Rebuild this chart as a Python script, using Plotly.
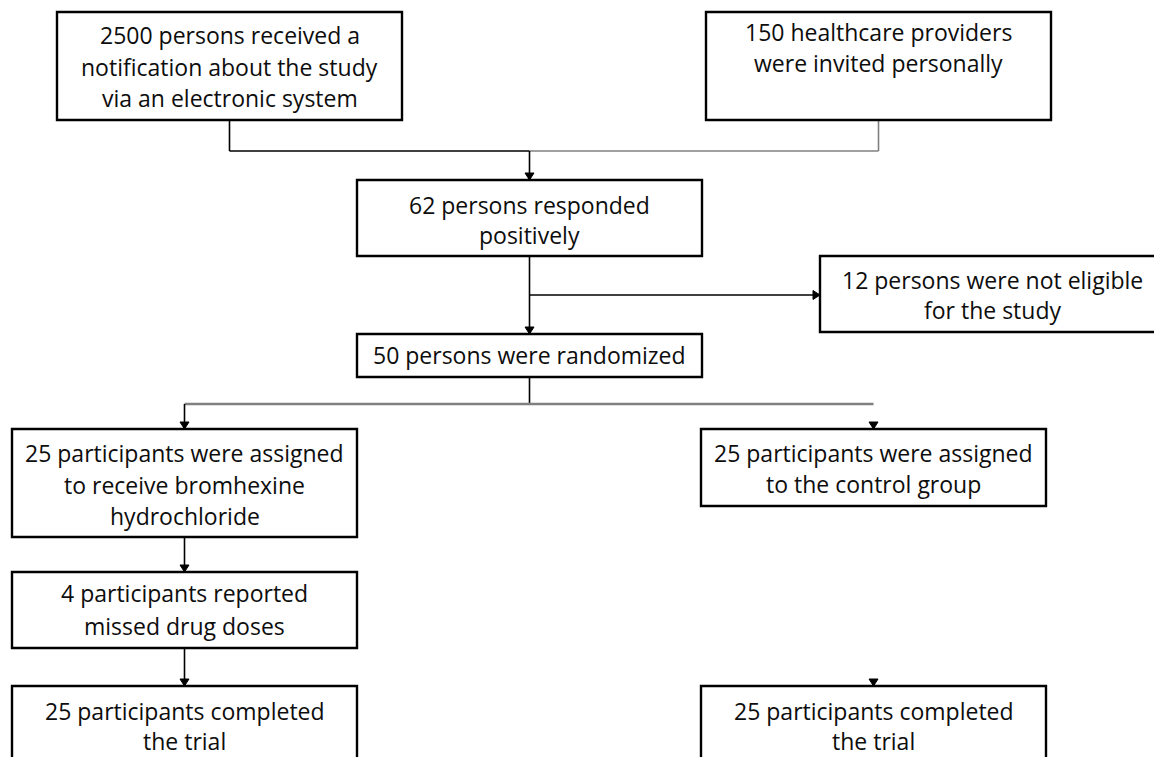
import plotly.graph_objects as go

# ---- content (flowchart texts) ----
box_ids = ["notify", "invite", "responded", "ineligible", "randomized",
           "bromhexine", "control", "missed", "done_left", "done_right"]
box_texts = [
    ["2500 persons received a", "notification about the study", "via an electronic system"],
    ["150 healthcare providers", "were invited personally"],
    ["62 persons responded", "positively"],
    ["12 persons were not eligible", "for the study"],
    ["50 persons were randomized"],
    ["25 participants were assigned", "to receive bromhexine", "hydrochloride"],
    ["25 participants were assigned", "to the control group"],
    ["4 participants reported", "missed drug doses"],
    ["25 participants completed", "the trial"],
    ["25 participants completed", "the trial"],
]

# ---- layout geometry (pixel canvas) ----
W, H = 1154, 757
geom = {  # x0, x1, y0, y1, first text line y, line step
    "notify":     (57, 402, 12, 120, 35, 31.5),
    "invite":     (706, 1051, 12, 120, 32, 31),
    "responded":  (357, 702, 180, 256, 205, 30),
    "ineligible": (820, 1165, 256, 332, 280, 30),
    "randomized": (357, 702, 334, 377, 355, 30),
    "bromhexine": (12, 357, 429, 537, 453, 31.5),
    "control":    (701, 1046, 429, 506, 453, 31),
    "missed":     (12, 357, 572, 648, 593, 33),
    "done_left":  (12, 357, 686, 800, 711, 30),
    "done_right": (701, 1046, 686, 800, 711, 30),
}

BLACK = "#000000"
GRAY = "#808080"
FONT = "'Open Sans', 'Noto Sans', sans-serif"

shapes = []
annotations = []

for bid, lines in zip(box_ids, box_texts):
    x0, x1, y0, y1, ty, step = geom[bid]
    shapes.append(dict(type="rect", xref="x", yref="y", x0=x0, x1=x1, y0=y0, y1=y1,
                       line=dict(color=BLACK, width=2.4), fillcolor="white", layer="above"))
    cx = (x0 + x1) / 2
    for i, t in enumerate(lines):
        annotations.append(dict(x=cx, y=ty + i * step, xref="x", yref="y", text=t,
                                showarrow=False, xanchor="center", yanchor="middle",
                                font=dict(family=FONT, size=23, color="#0d0d0d")))


def seg(x0, y0, x1, y1, color=BLACK, width=1.6):
    shapes.append(dict(type="line", xref="x", yref="y", x0=x0, y0=y0, x1=x1, y1=y1,
                       line=dict(color=color, width=width), layer="below"))


def head(x, y, direction="down", size=7, half=4.5):
    if direction == "down":
        path = f"M {x-half},{y-size} L {x+half},{y-size} L {x},{y} Z"
    else:  # right
        path = f"M {x-size},{y-half} L {x-size},{y+half} L {x},{y} Z"
    shapes.append(dict(type="path", xref="x", yref="y", path=path,
                       fillcolor=BLACK, line=dict(color=BLACK, width=1), layer="above"))


def c(bid):
    x0, x1, y0, y1, *_ = geom[bid]
    return (x0 + x1) / 2, y0, y1


# top merge
nx, _, nb = c("notify")
ix, _, ib = c("invite")
rx, rt, rb = c("responded")
seg(nx, nb, nx, 151)
seg(nx, 151, rx, 151)
seg(rx, 151, ix, 151, GRAY)
seg(ix, ib, ix, 151, GRAY)
seg(rx, 151, rx, rt)
head(rx, rt)

# responded -> randomized, branch to ineligible
_, rnt, rnb = c("randomized")
seg(rx, rb, rx, rnt)
head(rx, rnt)
el_x0 = geom["ineligible"][0]
seg(rx, 295, el_x0, 295)
head(el_x0, 295, "right")

# randomization split
bx, bt, bb = c("bromhexine")
cx_, ct, cb = c("control")
seg(rx, rnb, rx, 404)
seg(bx, 404, cx_, 404, GRAY, 2.4)
seg(bx, 404, bx, bt)
head(bx, bt)
head(cx_, ct)

# left column
mx, mt, mb = c("missed")
dx, dt, db = c("done_left")
seg(bx, bb, bx, mt)
head(bx, mt)
seg(mx, mb, mx, dt)
head(mx, dt)
# right column (arrowhead only)
ex, et, eb = c("done_right")
head(ex, et)

fig = go.Figure()
fig.update_layout(
    width=W, height=H,
    margin=dict(l=0, r=0, t=0, b=0),
    paper_bgcolor="white", plot_bgcolor="white",
    xaxis=dict(range=[0, W], visible=False, fixedrange=True),
    yaxis=dict(range=[H, 0], visible=False, fixedrange=True),
    shapes=shapes, annotations=annotations, showlegend=False,
)
fig.write_html("out.html", config={"displayModeBar": False},
               post_script="document.body.style.margin='0';document.body.style.overflow='hidden';")
